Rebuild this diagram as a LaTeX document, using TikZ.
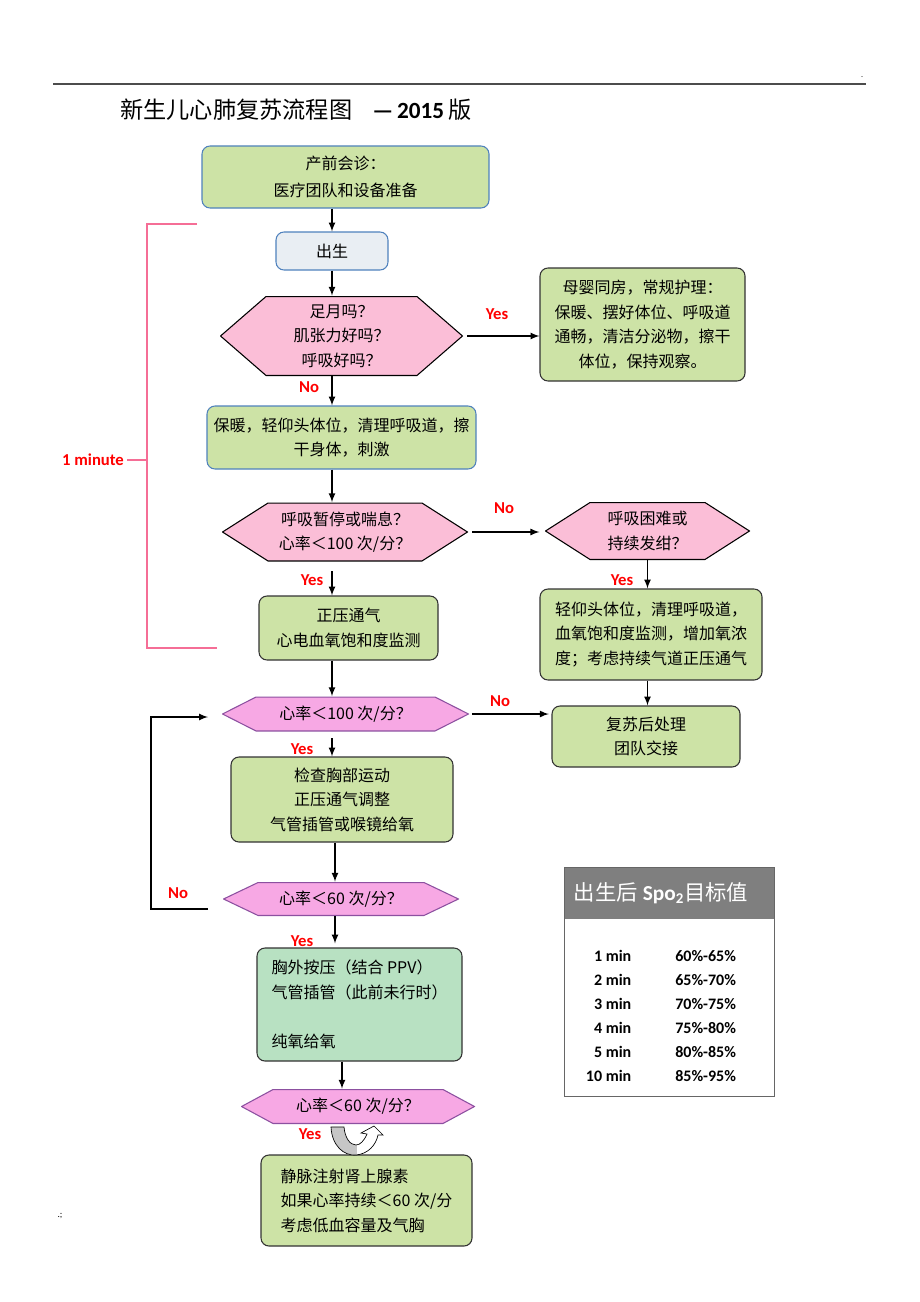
\documentclass[tikz,border=0pt]{standalone}
\usepackage{fontspec}
\setmainfont{Carlito}
\newfontfamily\cjk{Noto Sans CJK SC}
\definecolor{boxgreen}{RGB}{205,227,166}
\definecolor{boxblue}{RGB}{79,129,189}
\definecolor{birthgray}{RGB}{233,238,243}
\definecolor{hexpink}{RGB}{251,190,215}
\definecolor{hexrose}{RGB}{247,168,228}
\definecolor{hexline}{RGB}{140,80,160}
\definecolor{mint}{RGB}{184,225,194}
\definecolor{bracketpink}{RGB}{245,110,150}
\definecolor{headgray}{RGB}{127,127,127}
\tikzset{
  box/.style={draw=black!80, fill=boxgreen, rounded corners=6pt, line width=0.8pt,
    inner sep=2pt, align=center, font=\cjk\fontsize{12}{18.4}\selectfont},
  bluebox/.style={box, draw=boxblue},
  hexa/.style n args={3}{fill=white, inner sep=2pt, align=center,
    font=\cjk\fontsize{12}{18.4}\selectfont,
    path picture={\filldraw[fill=#2, draw=#3, line width=0.8pt]
      ([xshift=#1, yshift=-0.4pt]path picture bounding box.north west)
      -- ([xshift=-#1, yshift=-0.4pt]path picture bounding box.north east)
      -- ([xshift=-0.4pt]path picture bounding box.east)
      -- ([xshift=-#1, yshift=0.4pt]path picture bounding box.south east)
      -- ([xshift=#1, yshift=0.4pt]path picture bounding box.south west)
      -- ([xshift=0.4pt]path picture bounding box.west) -- cycle;}},
  lbl/.style={text=red, font=\bfseries\fontsize{12.5}{14}\selectfont},
  flow/.style={->, >=latex, line width=1.3pt},
  minrow/.style={font=\bfseries\fontsize{12}{14}\selectfont},
}
\begin{document}
\begin{tikzpicture}[x=0.75pt,y=-0.75pt]
\useasboundingbox (0,0) rectangle (920,1302);
\draw[black!70, line width=0.8pt] (53,84) -- (866,84);
\node[font=\fontsize{6}{6}\selectfont] (dot) at (862,77) {.};
\node[font=\fontsize{7}{7}\selectfont] (semi) at (60,1216) {.;};
\node[anchor=west, inner sep=0pt, font=\fontsize{17.4}{20}\selectfont] (title) at (120,110)
  {{\cjk 新生儿心肺复苏流程图}\hspace{15pt}{\bfseries —\,2015\,}{\cjk 版}};

% flow nodes
\node[bluebox, minimum width=215.25pt, minimum height=46.5pt] (pre) at (345.5,177) {产前会诊：\\[2pt] 医疗团队和设备准备};
\node[bluebox, fill=birthgray, minimum width=84pt, minimum height=28.5pt] (birth) at (332,251) {出生};
\node[hexa={34.5pt}{hexpink}{black}, minimum width=182.25pt, minimum height=60pt] (h1) at (341.5,336) {足月吗？\\ 肌张力好吗？\\ 呼吸好吗？};
\node[box, minimum width=153.75pt, minimum height=84.75pt] (r1) at (642.5,324.5) {母婴同房，常规护理：\hspace{14pt}\\ 保暖、摆好体位、呼吸道\\ 通畅，清洁分泌物，擦干\\ 体位，保持观察。};
\node[bluebox, minimum width=201.75pt, minimum height=47.25pt] (b2) at (341.5,437.5) {保暖，轻仰头体位，清理呼吸道，擦\\ 干身体，刺激};
\node[hexa={34.5pt}{hexpink}{black}, minimum width=184.5pt, minimum height=44.25pt] (h2) at (345,532) {呼吸暂停或喘息？\\ 心率＜100 次/分？};
\node[hexa={33.75pt}{hexpink}{black}, minimum width=153.75pt, minimum height=43.5pt] (h3) at (647.5,531) {呼吸困难或\\ 持续发绀？};
\node[box, align=left, minimum width=166.5pt, minimum height=68.25pt] (r2) at (651,634.5) {轻仰头体位，清理呼吸道，\\ 血氧饱和度监测，增加氧浓\\ 度；考虑持续气道正压通气};
\node[box, minimum width=134.25pt, minimum height=48pt] (ppv) at (348.5,628) {正压通气\\ 心电血氧饱和度监测};
\node[hexa={25.5pt}{hexrose}{hexline}, minimum width=185.25pt, minimum height=26.25pt] (h4) at (345.5,714) {心率＜100 次/分？};
\node[box, minimum width=141pt, minimum height=45.75pt] (post) at (646,736.5) {复苏后处理\\ 团队交接};
\node[box, minimum width=166.5pt, minimum height=63.75pt] (chk) at (342,799.5) {检查胸部运动\\ 正压通气调整\\ 气管插管或喉镜给氧};
\node[hexa={26.25pt}{hexrose}{hexline}, minimum width=177pt, minimum height=25.5pt] (h5) at (341,899) {心率＜60 次/分？};
\node[box, fill=mint, align=left, minimum width=153.75pt, minimum height=84.75pt] (cpr) at (359.5,1004.5) {胸外按压（结合 PPV）\\ 气管插管（此前未行时）\\ \\ 纯氧给氧};
\node[hexa={24pt}{hexrose}{hexline}, minimum width=175.5pt, minimum height=26.25pt] (h6) at (358,1106.5) {心率＜60 次/分？};
\node[box, align=left, minimum width=158.25pt, minimum height=68.25pt] (epi) at (366.5,1200.5) {静脉注射肾上腺素\\ 如果心率持续＜60 次/分\\ 考虑低血容量及气胸};

% arrows
\coordinate (colB) at (335,0);
\coordinate (colC) at (342,0);
\draw[flow] (pre.south -| birth) -- (birth.north);
\draw[flow] (birth.south) -- (h1.north -| birth);
\draw[flow, shorten <=3pt] (h1.east) -- (h1.east -| r1.west);
\draw[flow] (h1.south -| birth) -- (b2.north -| birth);
\draw[flow] (b2.south -| birth) -- (h2.north -| birth);
\draw[flow, shorten <=3pt, shorten >=4pt] (h2.east) -- (h2.east -| h3.west);
\draw[flow] (h3.south) -- (h3.south |- r2.north);
\draw[flow, shorten <=7pt] (h2.south -| birth) -- (ppv.north -| birth);
\draw[flow] (r2.south -| h3) -- (post.north -| h3);
\draw[flow] (ppv.south -| birth) -- (h4.north -| birth);
\draw[flow, shorten <=2pt, shorten >=2pt] (h4.east) -- (h4.east -| post.west);
\draw[flow, shorten <=5pt] (h4.south -| birth) -- (chk.north -| birth);
\draw[flow] (chk.south -| colB) -- (h5.north -| colB);
\draw[flow, shorten >=3pt] (h5.south -| colB) -- (cpr.north -| colB);
\draw[flow] (cpr.south -| colC) -- (h6.north -| colC);
\coordinate (loopin) at (208,717);
\coordinate (loopout) at (208,909);
\draw[flow] (loopout) -- ++(-57,0) |- (loopin);

% labels
\node[lbl] (yes1) at (497,314) {Yes};
\node[lbl] (no1) at (309,387) {No};
\node[lbl] (no2) at (504,508) {No};
\node[lbl] (yes2) at (312,580) {Yes};
\node[lbl] (yes3) at (622,580) {Yes};
\node[lbl] (no3) at (500,701) {No};
\node[lbl] (yes4) at (302,749) {Yes};
\node[lbl] (no4) at (178,893) {No};
\node[lbl] (yes5) at (302,941) {Yes};
\node[lbl] (yes6) at (310,1134) {Yes};

% 1 minute bracket
\draw[bracketpink, line width=1.5pt] (197,224) -- (147,224) -- (147,648) -- (217,648);
\draw[bracketpink, line width=1.5pt] (127,460) -- (147,460);
\node[lbl] (minute) at (93,460) {1 minute};

% u-turn arrow
\filldraw[fill=white, draw=black, line width=0.5pt,
  path picture={\fill[gray!45] (320,1120) rectangle (357,1160);}]
  (331,1127) .. controls (332,1146) and (344,1156) .. (356,1155)
  .. controls (368,1154) and (376,1145) .. (378,1135) -- (383,1135) -- (374,1126)
  -- (361,1133) -- (367,1134) .. controls (364,1141) and (360,1145) .. (356,1145)
  .. controls (350,1145) and (345,1138) .. (344,1127) -- cycle;

% SpO2 table
\fill[headgray] (564,867) rectangle (774,919);
\draw[black!60, line width=0.6pt] (564,867) rectangle (774,1096);
\node[text=white, font=\fontsize{16}{18}\selectfont] (spohead) at (661,893)
  {{\cjk 出生后} {\bfseries Spo\textsubscript{2}}{\cjk 目标值}};
\foreach \t/\p [count=\i] in {1 min/60\%-65\%, 2 min/65\%-70\%, 3 min/70\%-75\%,
  4 min/75\%-80\%, 5 min/80\%-85\%, 10 min/85\%-95\%}{
  \node[minrow, anchor=east] (min\i) at (636,932+24*\i) {\t};
  \node[minrow, anchor=west, inner sep=0pt] (pct\i) at (675,932+24*\i) {\p};
}
\end{tikzpicture}
\end{document}
